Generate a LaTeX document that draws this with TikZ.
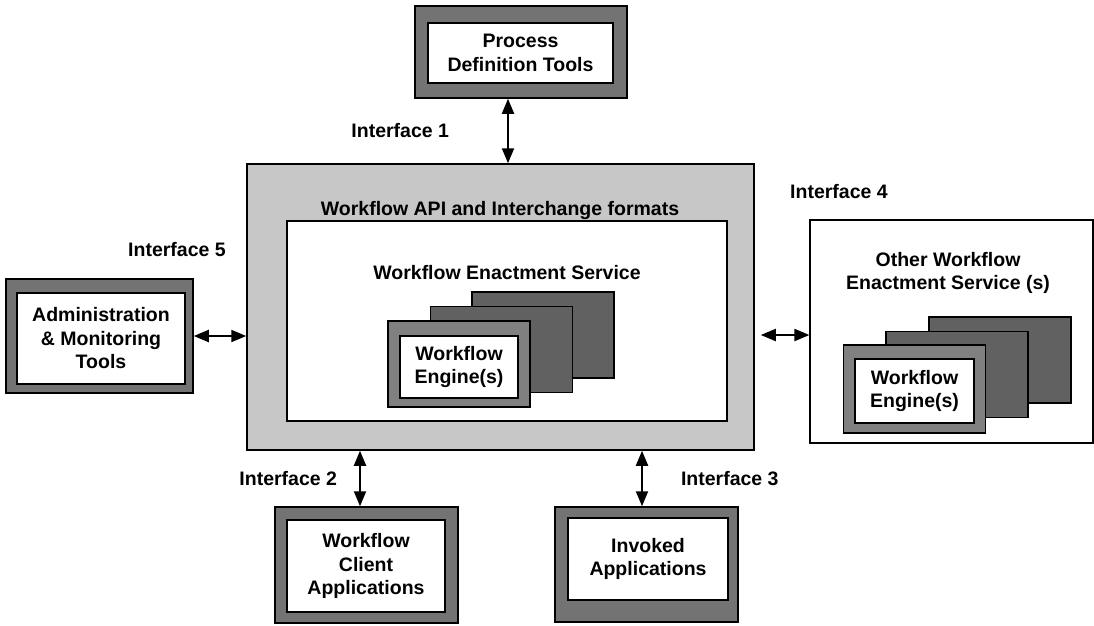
\documentclass[tikz,border=0pt]{standalone}
\usepackage{fontspec}
\setmainfont{Liberation Sans}
\usetikzlibrary{arrows.meta}

\begin{document}
\begin{tikzpicture}[x=1pt, y=-1pt,
	every node/.style={font=\bfseries\fontsize{19.5}{23.5}\selectfont, align=center},
	frame/.style={draw=black, line width=1.5pt, fill=black!55, inner sep=0pt},
	panel/.style={draw=black, line width=1.2pt, fill=white, inner sep=0pt},
	stack/.style={draw=black, line width=1.2pt, fill=black!62, inner sep=0pt, minimum width=142pt, minimum height=86pt},
	iflabel/.style={inner sep=0pt},
	biarrow/.style={{Triangle[length=15pt,width=12pt]}-{Triangle[length=15pt,width=12pt]}, line width=2pt}]

	\useasboundingbox (0,0) rectangle (1094,625);

	% Central API box and enactment service
	\node[draw=black, line width=1.5pt, fill=black!22, minimum width=507pt, minimum height=286pt] (api) at (500.5, 307) {};
	\node[panel, minimum width=440pt, minimum height=200pt] (wes) at (507, 321) {};
	\node (apilbl) at (500, 210) {Workflow API and Interchange formats};
	\node (weslbl) at (507, 273) {Workflow Enactment Service};

	% Engine stack inside
	\node[stack] (eng3) at (543, 335) {};
	\node[stack] (eng2) at (501.5, 349.5) {};
	\node[frame, fill=black!50, minimum width=142pt, minimum height=86pt] (eng1) at (459, 364) {};
	\node[panel, minimum width=118pt, minimum height=62pt] (engtxt) at (459, 367) {Workflow\\Engine(s)};

	% Other enactment services
	\node[panel, minimum width=283pt, minimum height=223pt] (other) at (951.5, 331.5) {};
	\node (otherlbl) at (948, 273) {Other Workflow\\Enactment Service (s)};
	\node[stack] (oeng3) at (1000, 360) {};
	\node[stack] (oeng2) at (957, 374.5) {};
	\node[frame, fill=black!50, minimum width=142pt, minimum height=88pt] (oeng1) at (914.5, 389) {};
	\node[panel, minimum width=119pt, minimum height=64pt] (oengtxt) at (914.5, 391) {Workflow\\Engine(s)};

	% Tool boxes
	\node[frame, minimum width=212pt, minimum height=92pt] (pdt) at (521, 52) {};
	\node[panel, minimum width=185pt, minimum height=60pt] (pdttxt) at (520.5, 53) {Process\\Definition Tools};

	\node[frame, minimum width=187pt, minimum height=114pt] (admin) at (99.5, 336) {};
	\node[panel, minimum width=168pt, minimum height=91pt] (admintxt) at (101, 338.5) {Administration\\\& Monitoring\\Tools};

	\node[frame, minimum width=183pt, minimum height=116pt] (client) at (366.5, 565) {};
	\node[panel, minimum width=158pt, minimum height=92pt] (clienttxt) at (366, 566) {Workflow\\Client\\Applications};

	\node[frame, minimum width=183pt, minimum height=115pt] (invoked) at (646.5, 564.5) {};
	\node[panel, minimum width=160pt, minimum height=82pt] (invokedtxt) at (648, 559) {Invoked\\Applications};

	% Interfaces
	\draw[biarrow] ([xshift=-13pt]pdt.south) -- ([xshift=-13pt]pdt.south |- api.north) node[midway, left=58pt, iflabel] {Interface 1};
	\draw[biarrow] ([xshift=-6.5pt]client.north |- api.south) -- ([xshift=-6.5pt]client.north) node[midway, left=22pt, iflabel] {Interface 2};
	\draw[biarrow] ([xshift=-4.5pt]invoked.north |- api.south) -- ([xshift=-4.5pt]invoked.north) node[midway, right=38pt, iflabel] {Interface 3};
	\draw[biarrow, shorten <=6pt] ([yshift=-3.5pt]api.east |- other.west) -- ([yshift=-3.5pt]other.west);
	\draw[biarrow] (admin.east) -- (api.west |- admin.east);
	\node[iflabel, anchor=west] (if4) at (790, 192) {Interface 4};
	\node[iflabel] (if5) at (177, 250) {Interface 5};

\end{tikzpicture}
\end{document}
